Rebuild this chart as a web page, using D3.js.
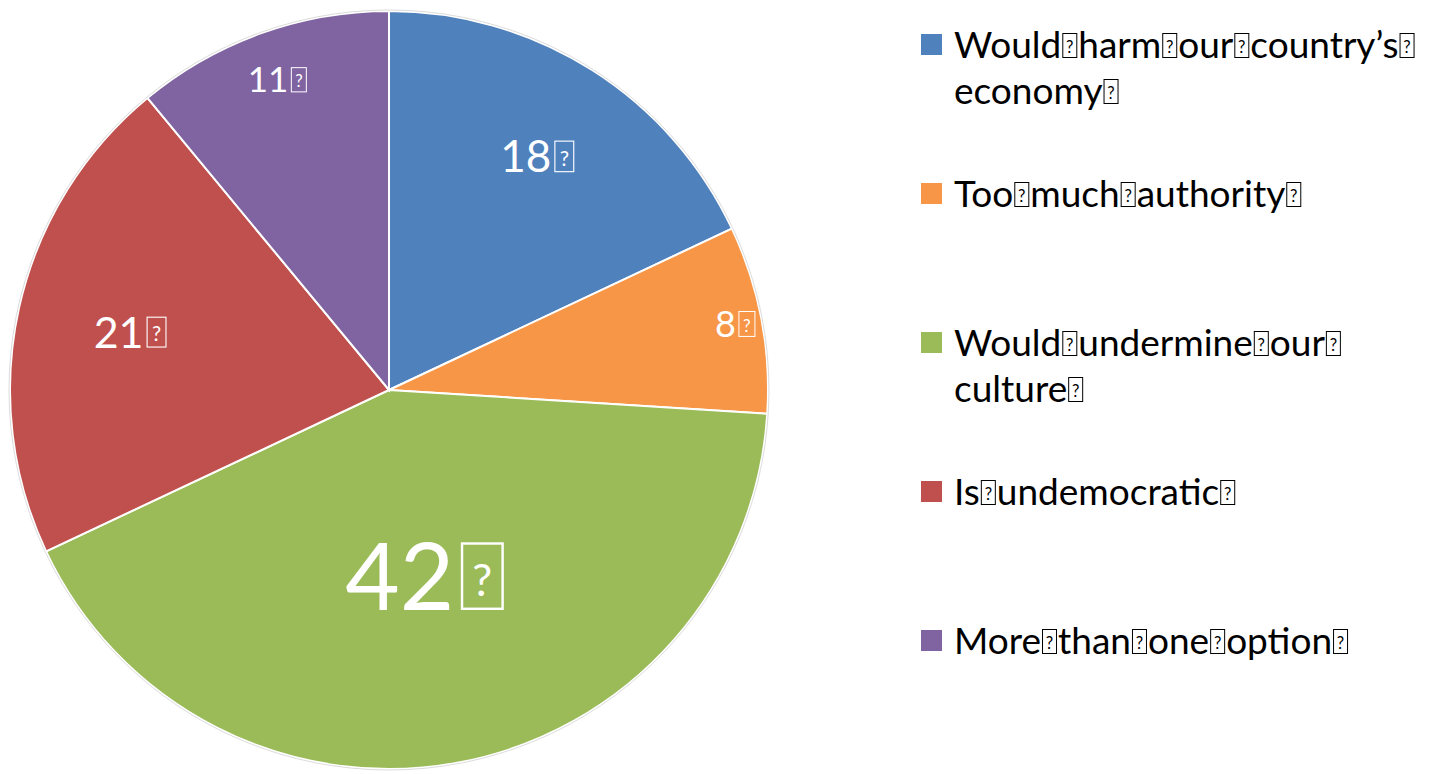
<!DOCTYPE html>
<html>
<head>
<meta charset="utf-8">
<script src="https://cdn.jsdelivr.net/npm/d3@7"></script>
<style>
    html, body { margin: 0; padding: 0; background: #fff; }
    svg { display: block; font-family: Lato, "Open Sans", sans-serif; }
</style>
</head>
<body>
<div id="chart"></div>
<script>
'use strict';

const categories = [
    "Would harm our country’s economy",
    "Too much authority",
    "Would undermine our culture",
    "Is undemocratic",
    "More than one option"
];
const values = [18, 8, 42, 21, 11];
const colors = ["#4F81BD", "#F79646", "#9BBB59", "#C0504D", "#8064A2"];

// label placement per slice (fraction of radius) and font size
const labelRadius = [0.73, 0.93, 0.5, 0.70, 0.87];
const labelSize = [44, 36, 94, 43, 35];

class PieChart {

    constructor (id)
    {
        this.id = id;
        this.width = 1448;
        this.height = 774;
        this.center = {x: 389, y: 390};
        this.radius = 379;
        this.legend = {x: 921, top: 58, step: 149, maxX: 1440, lineHeight: 46, fontSize: 37, boxH: 25};
    }

    appendSvg ()
    {
        this.svg = d3.select('#'+this.id).append('svg')
            .attr('width', this.width)
            .attr('height', this.height);
        return this;
    }

    // missing glyph box, as the original renderer showed it
    tofu (g, x, baseline, h, color, ratio)
    {
        let w = Math.round(h*(ratio || 0.64));
        let sw = Math.max(1, h/28);
        g.append('rect')
            .attr('x', x + sw/2)
            .attr('y', baseline - h + sw/2)
            .attr('width', w - sw)
            .attr('height', h - sw)
            .attr('fill', 'none')
            .attr('stroke', color)
            .attr('stroke-width', sw);
        g.append('text')
            .attr('x', x + w/2)
            .attr('y', baseline - h*0.2)
            .attr('text-anchor', 'middle')
            .attr('fill', color)
            .style('font-size', (h*0.66)+'px')
            .text('?');
        return w;
    }

    measure (txt, size)
    {
        let t = this.svg.append('text').style('font-size', size+'px').text(txt);
        let w = t.node().getComputedTextLength();
        t.remove();
        return w;
    }

    drawSlices ()
    {
        let pie = d3.pie().sort(null).value(d => d)(values);
        let arc = d3.arc().innerRadius(0).outerRadius(this.radius);

        this.chart = this.svg.append('g')
            .attr('transform', 'translate('+ this.center.x +','+ this.center.y +')');

        this.chart.selectAll('path')
            .data(pie)
            .enter()
            .append('path')
            .attr('d', arc)
            .attr('fill', (d, i) => colors[i])
            .attr('stroke', '#fff')
            .attr('stroke-width', 2);

        this.chart.append('circle')
            .attr('r', this.radius + 1)
            .attr('fill', 'none')
            .attr('stroke', '#dcdcdc')
            .attr('stroke-width', 1);

        pie.forEach((d, i) =>
        {
            let r = this.radius * labelRadius[i];
            let c = d3.arc().innerRadius(r).outerRadius(r).centroid(d);
            let size = labelSize[i];
            let txt = String(d.value);
            let digitH = size*0.72;
            let tw = this.measure(txt, size);
            let gap = size*0.07;
            let bw = Math.round(digitH*0.64);
            let x0 = c[0] - (tw + gap + bw)/2;
            let base = c[1] + digitH/2;
            let g = this.chart.append('g');
            g.append('text')
                .attr('x', x0)
                .attr('y', base)
                .attr('fill', '#fff')
                .style('font-size', size+'px')
                .text(txt);
            this.tofu(g, x0 + tw + gap, base, digitH, '#fff');
        });
        return this;
    }

    drawLegend ()
    {
        let L = this.legend;
        let y = d3.scalePoint().domain(d3.range(categories.length))
            .range([L.top, L.top + L.step*(categories.length-1)]);

        categories.forEach((name, i) =>
        {
            let g = this.svg.append('g');
            let base = y(i);
            g.append('rect')
                .attr('x', L.x)
                .attr('y', base - 24)
                .attr('width', 21)
                .attr('height', 21)
                .attr('fill', colors[i]);

            let startX = L.x + 33;
            let x = startX;
            name.split(' ').forEach((word, k, arr) =>
            {
                let w = this.measure(word, L.fontSize);
                if (x > startX && x + w + 16 > L.maxX)
                {
                    x = startX;
                    base += L.lineHeight;
                }
                g.append('text')
                    .attr('x', x)
                    .attr('y', base)
                    .attr('fill', '#000')
                    .style('font-size', L.fontSize+'px')
                    .text(word);
                x += w + 1;
                let bw = this.tofu(g, x, base, L.boxH, '#000', 0.6);
                x += bw + 1;
            });
        });
        return this;
    }
}

new PieChart('chart').appendSvg().drawSlices().drawLegend();
</script>
</body>
</html>
